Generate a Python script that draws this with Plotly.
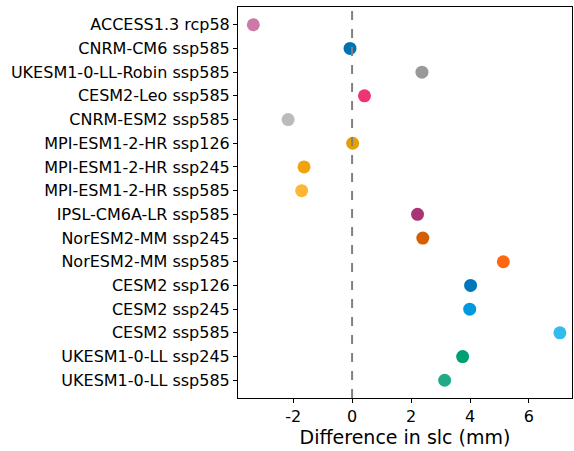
import plotly.graph_objects as go

models = [
    "ACCESS1.3 rcp58", "CNRM-CM6 ssp585", "UKESM1-0-LL-Robin ssp585", "CESM2-Leo ssp585",
    "CNRM-ESM2 ssp585", "MPI-ESM1-2-HR ssp126", "MPI-ESM1-2-HR ssp245", "MPI-ESM1-2-HR ssp585",
    "IPSL-CM6A-LR ssp585", "NorESM2-MM ssp245", "NorESM2-MM ssp585", "CESM2 ssp126",
    "CESM2 ssp245", "CESM2 ssp585", "UKESM1-0-LL ssp245", "UKESM1-0-LL ssp585",
]
diff_slc = [-3.35, -0.07, 2.37, 0.42, -2.17, 0.02, -1.63, -1.71,
            2.22, 2.40, 5.13, 4.02, 3.99, 7.05, 3.75, 3.14]
colors = ["#CC79A7", "#0072B2", "#999999", "#EE3377", "#BBBBBB", "#E69F00", "#F0A30A", "#FFB733",
          "#AA3377", "#D55E00", "#FF6611", "#0077BB", "#0099DD", "#33BBEE", "#009E73", "#22AA88"]

fig = go.Figure()
fig.add_trace(go.Scatter(
    x=diff_slc, y=models, mode="markers",
    marker=dict(color=colors, size=13, line=dict(width=0)),
    showlegend=False,
))
fig.add_vline(x=0, line=dict(color="gray", width=2, dash="dash"))

fig.update_layout(
    width=574, height=451,
    margin=dict(l=238, r=2, t=7, b=53),
    plot_bgcolor="white", paper_bgcolor="white",
    font=dict(family="DejaVu Sans", size=16, color="black"),
)
fig.update_xaxes(
    range=[-3.87, 7.46], tickvals=[-2, 0, 2, 4, 6], ticktext=["-2", "0", "2", "4", "6"],
    showgrid=False, zeroline=False, showline=True, linecolor="black", linewidth=1, mirror=True,
    ticks="outside", ticklen=4, tickcolor="black",
    title=dict(text="Difference in slc (mm)", standoff=5),
)
fig.update_yaxes(
    type="category", categoryorder="array", categoryarray=models,
    range=[15.75, -0.75],
    showgrid=False, zeroline=False, showline=True, linecolor="black", linewidth=1, mirror=True,
    ticks="outside", ticklen=4, tickcolor="black",
)

fig.write_html("out.html", config={"displayModeBar": False},
               post_script="document.body.style.margin='0';")
